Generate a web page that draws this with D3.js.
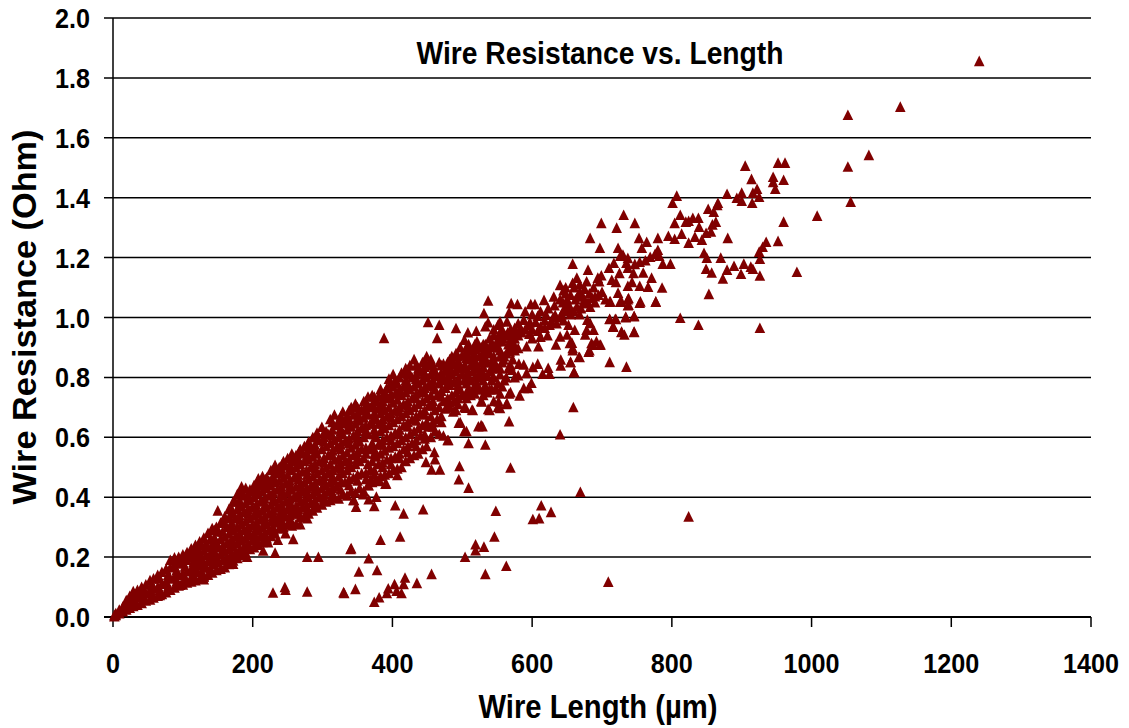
<!DOCTYPE html>
<html><head><meta charset="utf-8">
<script src="https://cdn.jsdelivr.net/npm/d3@7/dist/d3.min.js"></script>
<style>html,body{margin:0;padding:0;background:#fff}svg{display:block}text{font-family:"Liberation Sans",Arial,sans-serif;font-weight:bold;fill:#000}</style>
</head><body><svg id="c" width="1129" height="728"></svg>
<script>
const xTicks=[0,200,400,600,800,1000,1200,1400];
const yTicks=[0,0.2,0.4,0.6,0.8,1.0,1.2,1.4,1.6,1.8,2.0];
const chartTitle="Wire Resistance vs. Length";
const xTitle="Wire Length (µm)";
const yTitle="Wire Resistance (Ohm)";
// dense band read by length column: [length, [resistances]]
const bandColumns=[
[2,[.002,.006]],[4,[.006,.012]],[9,[.012,.024]],[14,[.018,.034]],[19,[.024,.042,.056]],[24,[.03,.05,.07]],[29,[.036,.058,.086]],[35,[.04,.066,.09]],[41,[.046,.072,.1]],[47,[.054,.08,.108]],[53,[.058,.09,.122]],[58,[.064,.094,.128]],[64,[.07,.1,.14]],[70,[.076,.11,.15]],[76,[.082,.118,.16]],[82,[.09,.128,.165,.19]],[88,[.098,.134,.17,.198]],[94,[.104,.14,.178,.2]],[100,[.108,.146,.182,.208]],[106,[.114,.152,.19,.216]],[112,[.118,.16,.2,.228]],[118,[.122,.166,.206,.24]],[124,[.128,.172,.214,.252]],[130,[.134,.178,.222,.264]],[136,[.14,.186,.232,.28]],[142,[.148,.194,.24,.296]],[148,[.156,.2,.25,.3]],[154,[.16,.21,.26,.314]],
[160,[.165,.218,.268,.335]],[166,[.176,.226,.278,.33,.36]],[172,[.188,.236,.29,.345,.385]],[178,[.196,.246,.3,.36,.41]],[184,[.205,.255,.31,.37,.435]],[190,[.214,.262,.32,.38,.43]],[196,[.226,.272,.33,.39,.425]],[202,[.232,.28,.338,.4,.44]],[208,[.24,.29,.345,.41,.462]],[214,[.25,.3,.355,.42,.47]],[220,[.262,.31,.365,.43,.465]],[226,[.27,.318,.375,.44,.49]],[232,[.278,.328,.385,.45,.507]],[238,[.295,.34,.395,.455,.5]],[244,[.3,.35,.405,.465,.52]],[250,[.31,.36,.415,.475,.53]],[256,[.305,.365,.425,.49,.545]],[262,[.31,.37,.435,.5,.54]],[268,[.332,.385,.44,.51,.56]],[274,[.335,.39,.45,.52,.57]],[280,[.345,.4,.46,.525,.585]],[286,[.355,.41,.47,.535,.6]],[292,[.365,.42,.48,.545,.615]],[299,[.375,.43,.49,.56,.634]],
[305,[.385,.44,.5,.57,.62]],[311,[.39,.45,.51,.58,.66]],[317,[.4,.455,.525,.59,.675]],[323,[.395,.47,.53,.6,.65]],[329,[.41,.48,.54,.61,.685]],[335,[.405,.49,.55,.625,.67]],[341,[.42,.5,.565,.635,.7]],[347,[.415,.51,.575,.645,.712]],[353,[.43,.52,.585,.655,.69]],[359,[.42,.53,.6,.665,.72]],[365,[.44,.51,.61,.675,.735]],[371,[.45,.52,.58,.645,.705,.74]],[377,[.46,.535,.6,.66,.72]],[383,[.47,.545,.62,.68,.71,.76]],[389,[.475,.555,.63,.69,.75]],[395,[.48,.565,.64,.7,.795]],[401,[.49,.57,.65,.715,.77,.81]],[407,[.495,.58,.66,.725,.78]],[413,[.5,.59,.67,.74,.815]],[419,[.52,.6,.68,.75,.79,.83]],[425,[.53,.61,.69,.76,.84]],[431,[.54,.62,.7,.77,.86]],[437,[.545,.63,.71,.78,.83]],[443,[.56,.64,.72,.79,.85]],[449,[.57,.65,.73,.8,.87]],[455,[.6,.67,.74,.81,.86]],[461,[.62,.69,.76,.82]],[467,[.61,.7,.78,.85]],[473,[.605,.72,.79,.845]],[479,[.59,.73,.8,.85]],[485,[.74,.81,.87]],[491,[.69,.75,.82,.88]],[497,[.65,.76,.83,.9]],[503,[.62,.7,.79,.84,.925]],[509,[.58,.76,.8,.86,.91]],[515,[.69,.76,.82,.87]],[521,[.78,.84,.9,.92]],[527,[.64,.72,.8,.85,.9]],[533,[.575,.77,.86,.91]],[539,[.69,.76,.82,.88,.93]],[545,[.72,.8,.87,.94]],[551,[.7,.78,.83,.9,.975]],[557,[.77,.85,.92,.96]],[563,[.71,.8,.88,.94]],[569,[.75,.84,.9,.96]],[575,[.8,.89,.93,.95]]
];
// second reading of the same band, between the rows above
const bandInfill=[
[22,[.04,.058]],[32,[.05,.075]],[44,[.062,.088]],[56,[.078,.108]],[67,[.09,.128]],[79,[.102,.14]],[91,[.118,.155,.185]],[103,[.13,.168,.198]],[115,[.14,.182,.215]],[127,[.15,.195,.238]],[139,[.162,.21,.258]],[151,[.182,.232,.285]],
[163,[.195,.245,.3]],[169,[.2,.25,.305,.345]],[175,[.215,.268,.33,.385]],[181,[.225,.28,.34,.39]],[187,[.232,.29,.35,.405]],[193,[.245,.3,.358,.41]],[199,[.255,.305,.365,.42]],[205,[.26,.315,.375,.43]],[211,[.27,.325,.385,.44]],[217,[.28,.335,.395,.45]],[223,[.29,.345,.405,.455]],[229,[.3,.355,.415,.47]],[235,[.315,.365,.425,.48]],[241,[.325,.375,.435,.495]],[247,[.335,.385,.445,.505]],[253,[.34,.395,.455,.51]],[259,[.345,.4,.465,.52]],[265,[.36,.412,.475,.53]],[271,[.365,.42,.485,.545]],[277,[.37,.43,.49,.55]],[283,[.38,.435,.5,.56]],[289,[.388,.445,.51,.575]],[295,[.4,.455,.52,.59]],
[302,[.41,.47,.53,.6]],[308,[.42,.48,.54,.61]],[314,[.43,.49,.555,.625]],[320,[.435,.5,.565,.64]],[326,[.45,.51,.575,.63,.66]],[332,[.45,.52,.585,.648]],[338,[.46,.525,.595,.66]],[344,[.465,.54,.605,.675]],[350,[.475,.55,.62,.68]],[356,[.48,.56,.63,.69]],[362,[.48,.565,.64,.705]],[368,[.49,.56,.645,.7]],[374,[.49,.56,.625,.68,.72]],[380,[.51,.575,.645,.695,.735]],[386,[.515,.59,.66,.72]],[392,[.525,.6,.67,.73,.765]],[398,[.53,.605,.68,.745]],[404,[.535,.615,.69,.745,.79]],[410,[.545,.625,.7,.76]],[416,[.56,.64,.71,.77]],[422,[.57,.65,.72,.78,.81]],[428,[.58,.66,.73,.8]],[434,[.59,.67,.745,.81]],[440,[.605,.68,.755,.82]],[446,[.61,.69,.765,.835]],[452,[.635,.705,.775,.84]],[458,[.65,.72,.79,.84]],[464,[.66,.74,.805]],[470,[.67,.755,.815]],[476,[.695,.765,.825]],[482,[.7,.775,.835]],[488,[.72,.785,.845]],[494,[.73,.795,.855]],[500,[.74,.81,.875]],[506,[.73,.78,.83,.885]],[512,[.74,.79,.84,.89]],[518,[.745,.8,.855,.895]],[524,[.76,.815,.87]],[530,[.74,.79,.835,.885]],[536,[.75,.805,.85,.895]],[542,[.76,.83,.9]],[548,[.76,.84,.91]],[554,[.745,.81,.87,.93]],[560,[.79,.87,.94]],[566,[.83,.91]],[572,[.86,.92]]
];
// third reading, the solid core of the band
const bandCore=[
[121,[.15,.19,.225]],[133,[.165,.205,.245]],[145,[.175,.22,.265,.29]],[157,[.19,.235,.285,.32]],[170,[.21,.26,.315,.36]],[182,[.222,.27,.325,.38,.415]],[194,[.235,.285,.345,.4]],[206,[.25,.3,.36,.42,.45]],[218,[.27,.32,.375,.435,.46]],[230,[.29,.34,.395,.455,.495]],[242,[.31,.36,.42,.48,.51]],[254,[.325,.38,.44,.5,.53]],[266,[.345,.4,.46,.52,.55]],[278,[.355,.415,.475,.54,.57]],[290,[.375,.435,.495,.56,.6]],[302,[.395,.455,.515,.585,.615]],[314,[.41,.47,.54,.605,.65]],[326,[.425,.495,.56,.62,.67]],[338,[.44,.51,.58,.645,.69]],[350,[.455,.53,.6,.665,.7]],[362,[.46,.545,.62,.69,.72]],[374,[.475,.545,.61,.665,.7,.735]],[386,[.5,.575,.645,.705,.74]],[398,[.51,.59,.665,.73,.78]],[410,[.53,.61,.685,.75,.8]],[422,[.55,.635,.705,.77,.825]],[434,[.57,.655,.73,.795,.84]],[446,[.595,.675,.75,.815,.855]],[458,[.635,.705,.77,.825]],[470,[.65,.735,.8,.84]],[482,[.715,.79,.82,.86]],[494,[.71,.775,.84,.87]],[506,[.75,.81,.865,.9]],[518,[.77,.83,.875,.91]],[530,[.76,.815,.86,.91]],[542,[.79,.85,.915]],[554,[.83,.89,.95]]
];
// scattered points read individually: [length, resistance]
const scatterPoints=[
[1240,1.856],[1127,1.703],[1052,1.676],[1052,1.503],[1082,1.542],[1056,1.386],[1008,1.339],[979,1.152],[960,1.319],[952,1.255],[935,1.252],[930,1.235],[925,1.219],[926,1.195],[926,1.139],[926,.965],[899,1.145],[903,1.179],[913,1.169],[916,1.162],[889,1.172],[873,1.129],[879,1.159],[870,1.199],[857,1.149],[849,1.162],[853,1.078],[846,1.215],[850,1.199],[812,.998],[838,.975],
[905,1.506],[952,1.516],[962,1.516],[914,1.462],[945,1.469],[945,1.452],[948,1.429],[960,1.459],[879,1.412],[900,1.416],[893,1.399],[900,1.389],[915,1.382],[916,1.416],[922,1.429],[925,1.402],[807,1.406],[801,1.382],[866,1.382],[852,1.362],[860,1.352],[865,1.375],[863,1.319],[858,1.31],[839,1.302],[830,1.332],[838,1.332],[820,1.319],[824,1.322],[812,1.342],[804,1.315],[856,1.286],[849,1.282],[843,1.259],[833,1.269],[824,1.249],[814,1.279],[804,1.262],[795,1.272],[780,1.265],[880,1.265],
[731,1.342],[699,1.315],[721,1.299],[747,1.315],[683,1.265],[697,1.232],[753,1.265],[764,1.252],[757,1.232],[723,1.232],[780,1.225],[776,1.212],[782,1.205],[769,1.202],[762,1.19],[754,1.185],[747,1.178],[730,1.209],[737,1.198],[726,1.205],[735,1.182],[787,1.179],[798,1.179],[658,1.179],[680,1.159],[717,1.182],[710,1.165],[737,1.165],[725,1.148],[745,1.148],[759,1.149],[771,1.132],[664,1.132],[694,1.132],[699,1.14],[714,1.125],[720,1.118],[737,1.105],[743,1.118],[754,1.105],[766,1.102],[786,1.099],[777,1.052],[754,1.048],[737,1.06],[723,1.082],[711,1.052],[726,1.052],[737,1.04],[711,.995],[719,.995],[734,1.002],[746,1.005],[716,.968],[728,.952],[732,.942],[746,.952],[711,.851],[735,.835],[660,.818],[655,.851],[667,.868],[681,.885],[687,.908],[697,.908],[657,.915],[658,.89],[676,.942],[678,.958],[683,.981],[688,.958],[679,.992],[692,.92],[698,.909],[685,.914],[682,.89],
[640,1.108],[645,1.09],[650,1.06],[660,1.1],[668,1.085],[675,1.095],[682,1.08],[690,1.07],[700,1.085],[705,1.06],[712,1.053],[728,1.053],[738,1.064],[738,1.042],[755,1.053],[777,1.053],[711,.994],[720,.994],[734,1.0],[746,1.003],[716,.97],[728,.951],[746,.951],[668,.867],[660,.816],[655,.851],[641,.859],[641,.839],[658,.897],[654,.914],[634,.909],[640,.936],[650,.942],[661,.958],[645,1.025],[654,1.03],[664,1.036],[673,1.047],[630,1.0],[640,1.0],[655,1.01],[668,1.01],[623,.831],[625,.811],[615,.811],[608,.845],[601,.834],[588,.842],[581,.845],[571,.825],[580,.806],[592,.814],[599,.781],[595,.764],[588,.764],[582,.739],[609,.903],[592,.903],[580,.897],[568,.886],[559,.859],[547,.847],[567,.653],[659,.7],[640,.609],
[537,1.056],[531,1.014],[570,1.047],[579,1.044],[598,1.044],[604,1.044],[617,1.058],[631,1.069],[567,1.017],[537,.983],[533,.97],[554,.986],[564,.986],[580,.98],[588,.992],[597,.983],[608,1.005],[620,1.008],[633,1.008],[590,.96],[600,.96],[612,.97],[625,.975],[600,.93],[612,.935],[622,.94],[580,.94],[570,.93],
[388,.931],[451,.984],[467,.975],[491,.964],[464,.931],[508,.95],[520,.955],
[583,.965],[595,.975],[605,.985],[618,.99],[628,.985],[642,1.01],[650,1.02],[660,1.02],[670,1.03],[680,1.05],[686,1.065],[662,1.06],[672,1.07],[652,1.045],[644,1.05],[690,1.05],[695,1.075],[683,1.035],[655,1.075],[648,1.08],
[575,.965],[585,.95],[596,.945],[608,.955],[618,.965],[635,.98],[645,.99],[652,.975],[565,.95],[573,.91],[558,.93],[550,.92],[545,.96],[648,1.1],[658,1.115],[668,1.11],[678,1.12],[688,1.1],[696,1.12],[665,1.07],[675,1.06],[640,1.06],[632,1.04],[623,1.03],[612,1.02],[600,1.01],[590,1.02],
[569,.498],[669,.417],[824,.335],[709,.117],[496,.503],[495,.459],[509,.431],[456,.492],[468,.492],[461,.526],[460,.55],[448,.517],[407,.473],[391,.445],[382,.453],[366,.439],[369,.459],[377,.401],[366,.392],[358,.409],[345,.39],[348,.367],[374,.37],[404,.372],[416,.345],[444,.359],[548,.354],[613,.372],[627,.35],[610,.329],[601,.326],[383,.257],[411,.268],[341,.229],[366,.195],[278,.2],[294,.2],[352,.151],[378,.156],[278,.084],[331,.079],[347,.093],[374,.05],[381,.065],[392,.079],[394,.095],[403,.109],[406,.087],[413,.079],[416,.109],[418,.131],[435,.113],[456,.143],[533,.143],[563,.17],[546,.268],[531,.234],[519,.242],[519,.222],[504,.2],[278,.329],[268,.309],
[229,.081],[246,.099],[247,.09],[172,.177],[192,.2],[130,.125],[130,.135],[215,.221],[232,.214],[222,.249],[236,.257],[247,.279],[258,.26],[340,.226],[390,.444],[150,.355],[344,.39],[96,.107],[67,.073],[111,.127],[330,.082],[487,.685],[495,.648],[506,.62],[480,.59],[523,.636],[529,.636],[514,.692],[505,.698],[537,.694],[554,.697],[552,.719],[564,.713],[567,.745],[528,.719]
];
const W=1129,H=728,L=113,R=1091,T=18,B=617;
const svg=d3.select("#c");
const x=d3.scaleLinear().domain([0,1400]).range([L,R]);
const y=d3.scaleLinear().domain([0,2]).range([B,T]);
const allPoints=bandColumns.concat(bandInfill,bandCore).flatMap(([l,rs])=>rs.map(r=>[l,r])).concat(scatterPoints);
svg.append("g").selectAll("line").data(yTicks).join("line")
 .attr("x1",L-9).attr("x2",R).attr("y1",d=>y(d)).attr("y2",d=>y(d))
 .attr("stroke","#000").attr("stroke-width",d=>d===0?2:1.5);
svg.append("line").attr("x1",L).attr("x2",L).attr("y1",T).attr("y2",B).attr("stroke","#000").attr("stroke-width",1.5);
svg.append("g").selectAll("line").data(xTicks).join("line")
 .attr("x1",d=>x(d)).attr("x2",d=>x(d)).attr("y1",B).attr("y2",B+10).attr("stroke","#000").attr("stroke-width",1.5);
svg.append("g").selectAll("text").data(yTicks).join("text")
 .attr("transform",d=>`translate(90,${y(d)+10}) scale(.9,1)`).attr("text-anchor","end").attr("font-size",28).text(d=>d.toFixed(1));
svg.append("g").selectAll("text").data(xTicks).join("text")
 .attr("transform",d=>`translate(${x(d)},673) scale(.9,1)`).attr("text-anchor","middle").attr("font-size",28).text(d=>d);
const tall={draw(c){c.moveTo(0,-5.6);c.lineTo(5.3,5);c.lineTo(-5.3,5);c.closePath();}};
const tri=d3.symbol().type(tall)();
svg.append("g").selectAll("path").data(allPoints).join("path")
 .attr("d",tri).attr("transform",d=>`translate(${x(d[0])},${y(d[1])})`).attr("fill","#800000");
svg.append("text").attr("x",600).attr("y",64).attr("text-anchor","middle").attr("font-size",32)
 .attr("textLength",367).attr("lengthAdjust","spacingAndGlyphs").text(chartTitle);
svg.append("text").attr("x",598).attr("y",718).attr("text-anchor","middle").attr("font-size",34)
 .attr("textLength",239).attr("lengthAdjust","spacingAndGlyphs").text(xTitle);
svg.append("text").attr("transform","translate(36,317) rotate(-90)").attr("text-anchor","middle").attr("font-size",34)
 .attr("textLength",375).attr("lengthAdjust","spacingAndGlyphs").text(yTitle);
</script></body></html>
